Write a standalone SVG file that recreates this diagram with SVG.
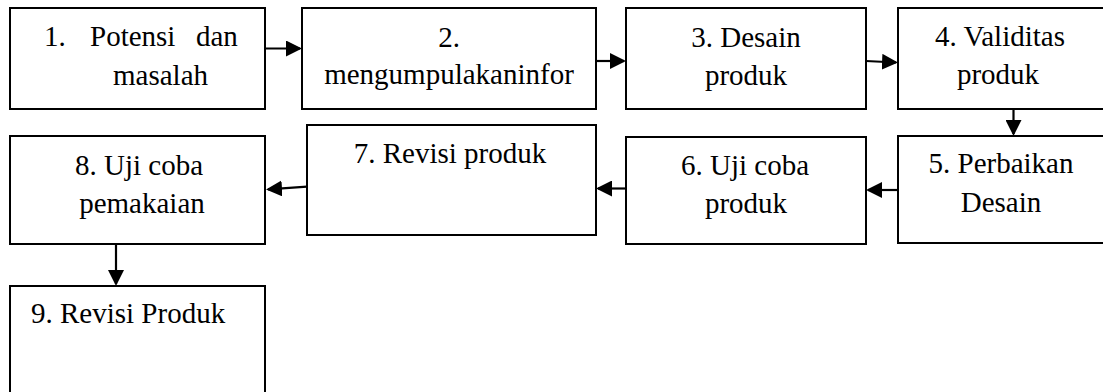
<svg xmlns="http://www.w3.org/2000/svg" width="1103" height="392" viewBox="0 0 1103 392">
<style>
.box{fill:#fff;stroke:#000;stroke-width:2}
.t{font-family:"Liberation Serif","Times New Roman",serif;font-size:29px;fill:#000}
.c{text-anchor:middle}
.conn{stroke:#000;stroke-width:2.2;fill:none;marker-end:url(#ah)}
</style>
<defs>
<marker id="ah" viewBox="0 0 16 16" markerWidth="16" markerHeight="16" markerUnits="userSpaceOnUse" refX="14" refY="8" orient="auto">
<path d="M0,0 L16,8 L0,16 Z" fill="#000"/>
</marker>
</defs>
<rect width="1103" height="392" fill="#fff"/>
<g id="node1">
<rect class="box" x="10" y="8" width="255" height="101"/>
<text class="t" x="44" y="46">1. <tspan x="90">Potensi </tspan><tspan x="196">dan</tspan></text>
<text class="t" x="113" y="84.5">masalah</text>
</g>
<g id="node2">
<rect class="box" x="302" y="8" width="294" height="101"/>
<text class="t c" x="449" y="46.5">2.</text>
<text class="t c" x="449" y="84">mengumpulakaninfor</text>
</g>
<g id="node3">
<rect class="box" x="626" y="8" width="240" height="101"/>
<text class="t c" x="746" y="46.5">3. Desain</text>
<text class="t c" x="746" y="84.5">produk</text>
</g>
<g id="node4">
<rect class="box" x="898" y="8" width="215" height="101"/>
<text class="t c" x="1000" y="46">4. Validitas</text>
<text class="t c" x="998" y="84">produk</text>
</g>
<g id="node5">
<rect class="box" x="898" y="136" width="215" height="107"/>
<text class="t c" x="1001" y="173">5. Perbaikan</text>
<text class="t c" x="1001" y="212">Desain</text>
</g>
<g id="node6">
<rect class="box" x="626" y="137" width="240" height="107"/>
<text class="t c" x="745" y="175">6. Uji coba</text>
<text class="t c" x="746" y="213">produk</text>
</g>
<g id="node7">
<rect class="box" x="307" y="125" width="289" height="110"/>
<text class="t c" x="450" y="163">7. Revisi produk</text>
</g>
<g id="node8">
<rect class="box" x="10" y="136" width="255" height="108"/>
<text class="t c" x="139" y="175">8. Uji coba</text>
<text class="t c" x="142" y="213">pemakaian</text>
</g>
<g id="node9">
<rect class="box" x="10" y="286" width="255" height="120"/>
<text class="t" x="31" y="323">9. Revisi Produk</text>
</g>
<g id="connectors">
<path class="conn" d="M265,48.5 L300,48.5"/>
<path class="conn" d="M596,61 L624,61"/>
<path class="conn" d="M866,61 L896,62.5"/>
<path class="conn" d="M1013.5,109 L1013.5,134"/>
<path class="conn" d="M898,190 L868,190"/>
<path class="conn" d="M626,188.5 L598,188.5"/>
<path class="conn" d="M307,186.7 L268,189.3"/>
<path class="conn" d="M116,244 L116,284"/>
</g>
</svg>
